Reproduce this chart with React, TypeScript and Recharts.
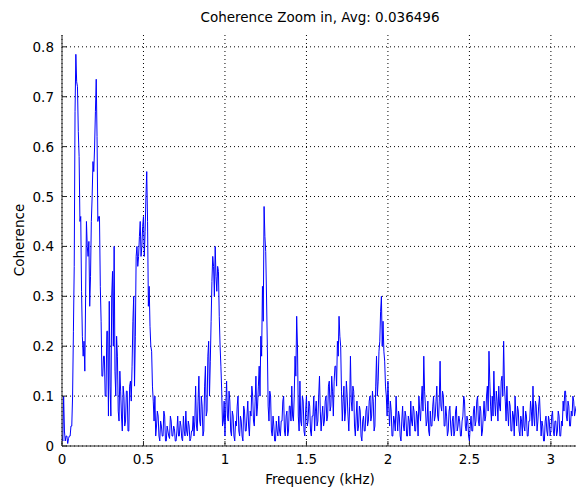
import React from 'react';
import { LineChart, Line, XAxis, YAxis, CartesianGrid } from 'recharts';

const FREQ_STEP_KHZ = 0.005;
const coherence = [
  // 0.0 kHz
  0.02, 0.01, 0.10, 0.03, 0.01, 0.02, 0.02, 0.005, 0.015, 0.02, 0.02, 0.04, 0.04, 0.10, 0.23, 0.36, 0.67, 0.785, 0.73, 0.72,
  // 0.1
  0.63, 0.58, 0.45, 0.46, 0.31, 0.22, 0.18, 0.21, 0.15, 0.30, 0.45, 0.40, 0.38, 0.41, 0.28, 0.34, 0.45, 0.50, 0.57, 0.55,
  // 0.2
  0.60, 0.67, 0.735, 0.62, 0.45, 0.46, 0.46, 0.32, 0.25, 0.14, 0.14, 0.18, 0.18, 0.10, 0.10, 0.23, 0.23, 0.06, 0.29, 0.12,
  // 0.3
  0.06, 0.30, 0.35, 0.20, 0.40, 0.15, 0.10, 0.22, 0.18, 0.07, 0.05, 0.15, 0.11, 0.06, 0.03, 0.12, 0.10, 0.04, 0.05, 0.11,
  // 0.4
  0.11, 0.03, 0.03, 0.12, 0.13, 0.09, 0.16, 0.25, 0.30, 0.12, 0.22, 0.38, 0.40, 0.36, 0.38, 0.42, 0.45, 0.38, 0.40, 0.44,
  // 0.5
  0.46, 0.38, 0.43, 0.50, 0.55, 0.45, 0.28, 0.32, 0.24, 0.20, 0.19, 0.12, 0.09, 0.05, 0.10, 0.02, 0.04, 0.07, 0.06, 0.02,
  // 0.6
  0.01, 0.05, 0.04, 0.02, 0.02, 0.07, 0.06, 0.01, 0.01, 0.04, 0.03, 0.02, 0.015, 0.06, 0.05, 0.02, 0.02, 0.04, 0.035, 0.01,
  // 0.7
  0.01, 0.03, 0.06, 0.02, 0.02, 0.05, 0.04, 0.015, 0.01, 0.06, 0.03, 0.02, 0.07, 0.03, 0.02, 0.05, 0.04, 0.01, 0.015, 0.03,
  // 0.8
  0.03, 0.06, 0.02, 0.05, 0.12, 0.04, 0.03, 0.09, 0.14, 0.05, 0.04, 0.10, 0.08, 0.02, 0.03, 0.12, 0.16, 0.06, 0.07, 0.18,
  // 0.9
  0.21, 0.10, 0.17, 0.25, 0.33, 0.38, 0.36, 0.30, 0.40, 0.34, 0.31, 0.36, 0.35, 0.26, 0.20, 0.16, 0.11, 0.04, 0.05, 0.09,
  // 1.0
  0.02, 0.08, 0.13, 0.06, 0.05, 0.11, 0.09, 0.03, 0.02, 0.07, 0.06, 0.02, 0.01, 0.05, 0.04, 0.08, 0.10, 0.03, 0.02, 0.06,
  // 1.1
  0.05, 0.02, 0.01, 0.08, 0.07, 0.03, 0.03, 0.06, 0.09, 0.04, 0.02, 0.07, 0.06, 0.12, 0.10, 0.05, 0.04, 0.09, 0.14, 0.06,
  // 1.2
  0.08, 0.12, 0.16, 0.10, 0.22, 0.18, 0.32, 0.25, 0.48, 0.42, 0.39, 0.30, 0.20, 0.08, 0.05, 0.11, 0.10, 0.03, 0.02, 0.06,
  // 1.3
  0.04, 0.01, 0.01, 0.05, 0.03, 0.02, 0.06, 0.03, 0.02, 0.05, 0.05, 0.09, 0.10, 0.03, 0.02, 0.06, 0.07, 0.02, 0.03, 0.08,
  // 1.4
  0.08, 0.05, 0.12, 0.06, 0.05, 0.10, 0.18, 0.14, 0.26, 0.20, 0.06, 0.03, 0.13, 0.05, 0.04, 0.10, 0.09, 0.03, 0.02, 0.07,
  // 1.5
  0.10, 0.04, 0.05, 0.09, 0.08, 0.03, 0.02, 0.06, 0.06, 0.10, 0.03, 0.07, 0.09, 0.04, 0.05, 0.10, 0.14, 0.07, 0.03, 0.06,
  // 1.6
  0.08, 0.04, 0.05, 0.09, 0.10, 0.05, 0.06, 0.12, 0.13, 0.07, 0.08, 0.14, 0.11, 0.06, 0.13, 0.16, 0.16, 0.12, 0.21, 0.18,
  // 1.7
  0.26, 0.22, 0.20, 0.11, 0.05, 0.09, 0.12, 0.05, 0.07, 0.13, 0.10, 0.06, 0.03, 0.08, 0.18, 0.09, 0.07, 0.12, 0.11, 0.04,
  // 1.8
  0.02, 0.06, 0.09, 0.03, 0.04, 0.08, 0.07, 0.02, 0.01, 0.05, 0.06, 0.03, 0.03, 0.07, 0.08, 0.04, 0.05, 0.09, 0.10, 0.05,
  // 1.9
  0.06, 0.11, 0.09, 0.03, 0.04, 0.12, 0.18, 0.10, 0.13, 0.19, 0.21, 0.27, 0.30, 0.20, 0.25, 0.19, 0.17, 0.12, 0.10, 0.06,
  // 2.0
  0.13, 0.08, 0.04, 0.09, 0.07, 0.02, 0.02, 0.06, 0.05, 0.03, 0.10, 0.06, 0.03, 0.07, 0.06, 0.02, 0.01, 0.05, 0.08, 0.04,
  // 2.1
  0.03, 0.07, 0.06, 0.02, 0.02, 0.06, 0.05, 0.02, 0.09, 0.05, 0.04, 0.08, 0.07, 0.03, 0.03, 0.07, 0.06, 0.02, 0.10, 0.07,
  // 2.2
  0.05, 0.09, 0.12, 0.07, 0.18, 0.11, 0.08, 0.04, 0.05, 0.09, 0.03, 0.02, 0.07, 0.04, 0.04, 0.08, 0.10, 0.05, 0.06, 0.09,
  // 2.3
  0.12, 0.06, 0.05, 0.09, 0.17, 0.08, 0.07, 0.11, 0.10, 0.04, 0.04, 0.08, 0.06, 0.02, 0.03, 0.07, 0.08, 0.04, 0.02, 0.05,
  // 2.4
  0.06, 0.02, 0.03, 0.07, 0.08, 0.03, 0.04, 0.06, 0.05, 0.02, 0.02, 0.05, 0.06, 0.10, 0.09, 0.04, 0.03, 0.06, 0.05, 0.02,
  // 2.5
  0.01, 0.04, 0.06, 0.03, 0.03, 0.07, 0.08, 0.04, 0.05, 0.09, 0.10, 0.05, 0.04, 0.08, 0.07, 0.02, 0.03, 0.06, 0.09, 0.05,
  // 2.6
  0.06, 0.10, 0.12, 0.07, 0.19, 0.13, 0.08, 0.05, 0.10, 0.06, 0.15, 0.09, 0.06, 0.11, 0.09, 0.05, 0.12, 0.08, 0.07, 0.13,
  // 2.7
  0.14, 0.10, 0.21, 0.12, 0.09, 0.05, 0.12, 0.07, 0.04, 0.09, 0.08, 0.03, 0.03, 0.07, 0.06, 0.02, 0.10, 0.06, 0.04, 0.08,
  // 2.8
  0.07, 0.03, 0.02, 0.06, 0.05, 0.02, 0.08, 0.04, 0.03, 0.07, 0.06, 0.02, 0.02, 0.05, 0.05, 0.09, 0.07, 0.04, 0.12, 0.06,
  // 2.9
  0.04, 0.09, 0.08, 0.03, 0.05, 0.08, 0.10, 0.06, 0.02, 0.05, 0.04, 0.01, 0.01, 0.05, 0.06, 0.03, 0.02, 0.06, 0.05, 0.02,
  // 3.0
  0.03, 0.06, 0.07, 0.03, 0.02, 0.05, 0.05, 0.02, 0.03, 0.07, 0.06, 0.02, 0.02, 0.05, 0.04, 0.09, 0.07, 0.11, 0.11, 0.06,
  // 3.1
  0.05, 0.09, 0.08, 0.04, 0.04, 0.07, 0.06, 0.10, 0.09, 0.06, 0.07, 0.08,
];

const xTicks = [0, 0.5, 1, 1.5, 2, 2.5, 3];
const yTicks = [0, 0.1, 0.2, 0.3, 0.4, 0.5, 0.6, 0.7, 0.8];
const title = 'Coherence Zoom in, Avg: 0.036496';
const xLabel = 'Frequency (kHz)';
const yLabel = 'Coherence';

const data = coherence.map((c, i) => ({ f: +(i * FREQ_STEP_KHZ).toFixed(3), c }));

const FONT = '"DejaVu Sans", sans-serif';
const FS = 13.5;
const AXIS = '#262626';

const YTick = (props: any) => {
  const { x, y, payload } = props;
  return (
    <g>
      <line x1={x} x2={x + 5} y1={y} y2={y} stroke={AXIS} />
      <text x={x - 8} y={y + 5} textAnchor="end" fontFamily={FONT} fontSize={FS} fill="#000">
        {payload.value}
      </text>
    </g>
  );
};

const XTick = (props: any) => {
  const { x, y, payload } = props;
  return (
    <g>
      <line x1={x} x2={x} y1={y} y2={y - 5} stroke={AXIS} />
      <text x={x} y={y + 18} textAnchor="middle" fontFamily={FONT} fontSize={FS} fill="#000">
        {payload.value}
      </text>
    </g>
  );
};

const TopTick = (props: any) => {
  const { x, y } = props;
  return <line x1={x} x2={x} y1={y} y2={y + 5} stroke={AXIS} />;
};

export default function App() {
  return (
    <div style={{ position: 'absolute', left: 0, top: 0, width: 576, height: 489, background: '#fff' }}>
      <LineChart width={576} height={489} data={data} margin={{ top: 35, right: 0, bottom: 0, left: 0 }}>
        <CartesianGrid stroke="#000" strokeDasharray="1 3" verticalValues={xTicks} horizontalValues={yTicks} />
        <XAxis
          dataKey="f"
          type="number"
          domain={[0, 3.154]}
          ticks={xTicks}
          allowDataOverflow
          height={43}
          tickSize={0}
          tickMargin={0}
          tickLine={false}
          axisLine={{ stroke: AXIS }}
          tick={XTick}
        />
        <XAxis
          xAxisId="top"
          orientation="top"
          type="number"
          domain={[0, 3.154]}
          ticks={xTicks}
          allowDataOverflow
          height={0}
          tickSize={0}
          tickMargin={0}
          tickLine={false}
          axisLine={{ stroke: AXIS }}
          tick={TopTick}
        />
        <YAxis
          type="number"
          domain={[0, 0.8237]}
          ticks={yTicks}
          allowDataOverflow
          width={62}
          tickSize={0}
          tickMargin={0}
          tickLine={false}
          axisLine={{ stroke: AXIS }}
          tick={YTick}
        />
        <Line
          dataKey="c"
          type="linear"
          stroke="#0000ff"
          strokeWidth={1}
          dot={false}
          activeDot={false}
          isAnimationActive={false}
        />
      </LineChart>
      <svg width={576} height={489} style={{ position: 'absolute', left: 0, top: 0, pointerEvents: 'none' }}>
        <text x={320} y={22} textAnchor="middle" fontFamily={FONT} fontSize={FS} fill="#000">
          {title}
        </text>
        <text x={320} y={484} textAnchor="middle" fontFamily={FONT} fontSize={FS} fill="#000">
          {xLabel}
        </text>
        <text x={24} y={240} textAnchor="middle" transform="rotate(-90 24 240)" fontFamily={FONT} fontSize={FS} fill="#000">
          {yLabel}
        </text>
      </svg>
    </div>
  );
}
